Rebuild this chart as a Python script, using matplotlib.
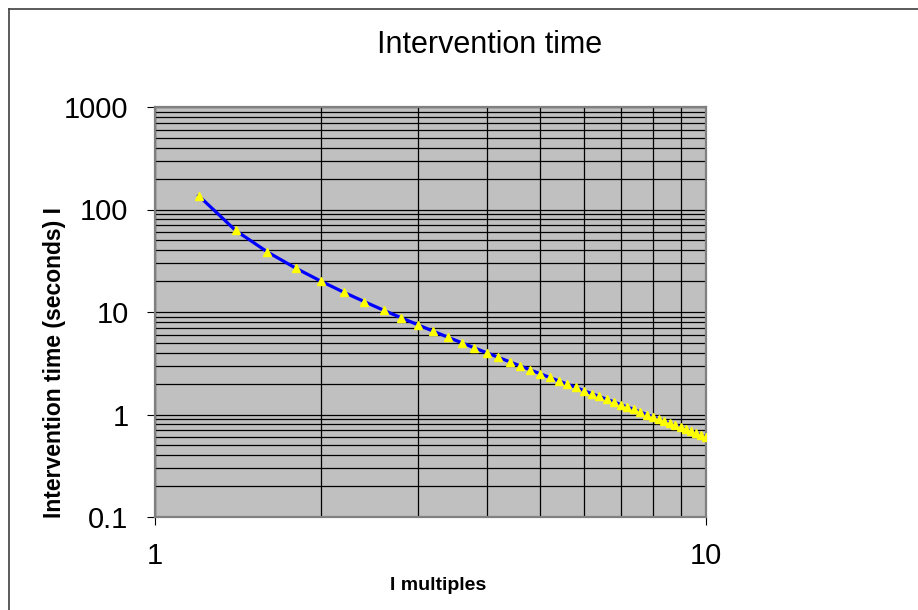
import matplotlib.pyplot as plt
from matplotlib.lines import Line2D
from matplotlib.ticker import LogLocator, FixedLocator, NullFormatter

plt.rcParams['font.family'] = ['Liberation Sans', 'DejaVu Sans']

# I multiples (x) and intervention time in seconds (y)
multiples = [1.2, 1.4, 1.6, 1.8, 2.0, 2.2, 2.4, 2.6, 2.8, 3.0,
             3.2, 3.4, 3.6, 3.8, 4.0, 4.2, 4.4, 4.6, 4.8, 5.0,
             5.2, 5.4, 5.6, 5.8, 6.0, 6.2, 6.4, 6.6, 6.8, 7.0,
             7.2, 7.4, 7.6, 7.8, 8.0, 8.2, 8.4, 8.6, 8.8, 9.0,
             9.2, 9.4, 9.6, 9.8, 10.0]
times = [136.4, 62.5, 38.5, 26.8, 20.0, 15.6, 12.6, 10.4, 8.77, 7.50,
         6.49, 5.68, 5.02, 4.46, 4.00, 3.61, 3.27, 2.98, 2.72, 2.50,
         2.30, 2.13, 1.98, 1.84, 1.71, 1.60, 1.50, 1.41, 1.33, 1.25,
         1.18, 1.12, 1.06, 1.00, 0.952, 0.906, 0.863, 0.822, 0.785, 0.750,
         0.717, 0.687, 0.658, 0.631, 0.606]

x_ticks = [1, 10]
x_tick_labels = ["1", "10"]
y_ticks = [0.1, 1, 10, 100, 1000]
y_tick_labels = ["0.1", "1", "10", "100", "1000"]

fig = plt.figure(figsize=(9.18, 6.10), dpi=100)
ax = fig.add_axes([155 / 918, 93 / 610, 551 / 918, 410 / 610])
ax.set_facecolor("#c0c0c0")

ax.set_xscale("log")
ax.set_yscale("log")
ax.set_xlim(1, 10)
ax.set_ylim(0.1, 1000)

ax.xaxis.set_major_locator(FixedLocator(x_ticks))
ax.set_xticklabels(x_tick_labels)
ax.xaxis.set_minor_locator(LogLocator(base=10, subs=range(2, 10)))
ax.xaxis.set_minor_formatter(NullFormatter())
ax.yaxis.set_major_locator(FixedLocator(y_ticks))
ax.set_yticklabels(y_tick_labels)
ax.yaxis.set_minor_locator(LogLocator(base=10, subs=range(2, 10), numticks=20))
ax.yaxis.set_minor_formatter(NullFormatter())

ax.grid(True, which="both", color="black", linewidth=0.9)
ax.set_axisbelow(True)

ax.tick_params(which="major", direction="out", length=6, width=0.8,
               color="black", labelsize=21, pad=13)
ax.tick_params(which="minor", length=0)
ax.tick_params(axis="x", pad=12)

for s in ax.spines.values():
    s.set_color("#808080")
    s.set_linewidth(1.6)

ax.plot(multiples, times, color="#0000ff", linewidth=2.3,
        marker="^", markersize=6, markerfacecolor="#ffff00",
        markeredgecolor="#ffff00", zorder=3)

fig.text(490 / 918, 1 - 45 / 610, "Intervention time", fontsize=22,
         ha="center", va="center")
fig.text(55 / 918, 1 - 363 / 610, "Intervention time (seconds) I",
         fontsize=16.5, fontweight="bold", rotation=90, ha="center", va="center")
fig.text(438 / 918, 1 - 585 / 610, "I multiples", fontsize=14,
         fontweight="bold", ha="center", va="center")

# chart frame (top and left edges visible)
fig.add_artist(Line2D([8.5 / 918, 1], [1 - 8.5 / 610, 1 - 8.5 / 610],
                      color="#404040", linewidth=1.2, transform=fig.transFigure))
fig.add_artist(Line2D([8.5 / 918, 8.5 / 918], [0, 1 - 8.5 / 610],
                      color="#404040", linewidth=1.2, transform=fig.transFigure))

fig.savefig("out.png", dpi=100)
